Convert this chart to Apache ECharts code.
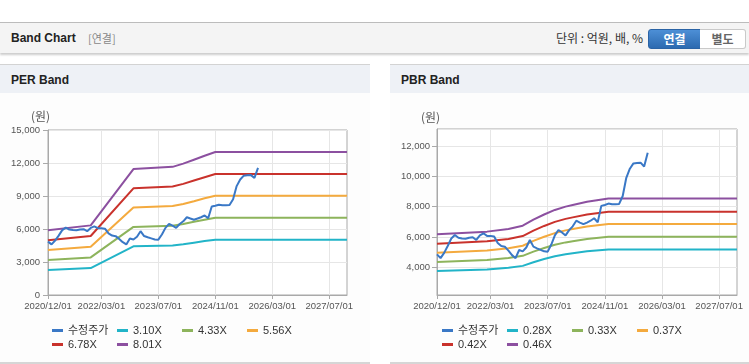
<!DOCTYPE html>
<html><head><meta charset="utf-8">
<script src="https://cdn.jsdelivr.net/npm/echarts@6/dist/echarts.min.js"></script>
<style>
html,body{margin:0;padding:0;width:749px;height:364px;overflow:hidden;background:#fff;font-family:'Liberation Sans','Noto Sans CJK KR',sans-serif;}
#top{position:absolute;left:0;top:22px;width:749px;height:30px;background:#f4f4f4;border-top:1px solid #bcbcbc;box-shadow:0 2px 2px rgba(0,0,0,0.2);}
#top .t{position:absolute;left:11px;top:0;line-height:30px;font-size:12px;font-weight:bold;color:#222;}
#top .s{position:absolute;left:88px;top:0;line-height:30px;font-size:11px;color:#888;font-family:'Noto Sans CJK KR',sans-serif;}
#top .u{position:absolute;right:106px;top:0;line-height:30px;font-size:12px;color:#333;font-family:'Noto Sans CJK KR',sans-serif;}
.btn{position:absolute;top:6px;height:18px;line-height:18px;font-size:12px;font-weight:bold;text-align:center;font-family:'Noto Sans CJK KR',sans-serif;}
#b1{left:648px;width:51px;background:linear-gradient(#4d8fd6,#2c6ab0);border:1px solid #2a63a5;border-radius:3px 0 0 3px;color:#fff;}
#b2{left:700px;width:45px;background:#fff;border:1px solid #c9c9c9;border-left:none;border-radius:0 3px 3px 0;color:#666;}
.panel{position:absolute;top:64px;height:297px;background:#fdfdfd;border-top:1px solid #d3d3d3;border-bottom:2px solid #d6d6d6;}
.panel .h{height:28px;background:#eef1f6;line-height:30px;padding-left:11px;font-size:12px;font-weight:bold;color:#222;}
#chart{position:absolute;left:0;top:0;width:749px;height:364px;}
</style></head>
<body>
<div id="top"><span class="t">Band Chart</span><span class="s">[연결]</span><span class="u">단위 : 억원, 배, %</span>
<div class="btn" id="b1">연결</div><div class="btn" id="b2">별도</div></div>
<div class="panel" style="left:0;width:370px;"><div class="h">PER Band</div></div>
<div class="panel" style="left:390px;width:359px;"><div class="h">PBR Band</div></div>
<div id="chart"></div>
<script>
// monthly categories 2020/12/01 .. 2027/12/01
const categories = [];
for (let y = 2020, m = 12; y < 2028; ) {
  categories.push(y + '/' + String(m).padStart(2, '0') + '/01');
  m++; if (m > 12) { m = 1; y++; }
  if (y === 2028) break;
}
const tickLabels = ['2020/12/01','2022/03/01','2023/07/01','2024/11/01','2026/03/01','2027/07/01'];

// 수정주가 (monthly, 2020/12 .. 2025/11)
const price = [4850,4600,4950,5400,5900,6130,5950,5900,5880,5950,5980,5800,
  6100,6240,6070,6070,6030,5600,5400,5350,5100,4800,4600,5140,
  5050,5300,5800,5360,5250,5150,5050,5030,5500,6100,6460,6300,
  6100,6450,6700,7070,6950,6840,6950,7070,7230,6970,8050,8110,
  8200,8150,8150,8180,8700,9900,10500,10850,10880,10900,10650,11560];

// PER band key points
const perNames = ['3.10X','4.33X','5.56X','6.78X','8.01X'];
const perDates = ['2020/12/01','2021/12/01','2022/12/01','2023/11/01','2024/02/01','2024/05/01','2024/08/01','2024/11/01','2027/12/01'];
const per310 = [2280,2450,4430,4510,4620,4760,4900,5030,5030];
const per433 = [3180,3420,6190,6300,6450,6650,6840,7030,7030];
const per556 = [4090,4390,7950,8090,8280,8530,8790,9020,9020];
const per678 = [4980,5360,9700,9860,10100,10410,10710,11000,11000];
const per801 = [5890,6330,11450,11650,11940,12300,12660,13000,13000];

// PBR band key points
const pbrNames = ['0.28X','0.33X','0.37X','0.42X','0.46X'];
const pbrDates = ['2020/12/01','2022/02/01','2022/08/01','2022/12/01','2023/03/01','2023/06/01','2023/09/01','2023/12/01','2024/02/01','2024/06/01','2024/12/01','2027/12/01'];
const pbr028 = [3745,3854,3964,4091,4334,4540,4722,4856,4923,5050,5178,5178];
const pbr033 = [4350,4477,4604,4752,5034,5273,5485,5640,5718,5866,6014,6014];
const pbr037 = [4961,5105,5250,5419,5741,6014,6255,6432,6520,6689,6858,6858];
const pbr042 = [5547,5709,5870,6059,6419,6725,6994,7192,7291,7480,7668,7668];
const pbr046 = [6170,6350,6530,6740,7140,7480,7780,8000,8110,8320,8530,8530];

const priceColor = '#3a78c6';
const bandColors = ['#22b4c8','#8db45c','#f4aa3e','#c9322c','#8c50a0'];
const FONT = "'Liberation Sans','Noto Sans CJK KR',sans-serif";

const tickSet = new Set(tickLabels);
const showTick = (i, v) => tickSet.has(v);

function xAxis(gi) {
  return {
    type: 'category', gridIndex: gi, data: categories, boundaryGap: false,
    axisLine: { show: true, lineStyle: { color: '#a9a9a9' } },
    axisTick: { show: true, interval: showTick, length: 4, lineStyle: { color: '#a9a9a9' } },
    axisLabel: { interval: showTick, color: '#555', fontSize: 9.5, fontFamily: FONT, margin: 7, hideOverlap: false, showMinLabel: true },
    splitLine: { show: true, interval: showTick, lineStyle: { color: '#e6e6e6' } }
  };
}
function yAxis(gi, extra, labelExtra) {
  return Object.assign({
    type: 'value', gridIndex: gi,
    axisLine: { show: true, lineStyle: { color: '#a9a9a9' } },
    axisTick: { show: true, length: 5, lineStyle: { color: '#a9a9a9' } },
    axisLabel: Object.assign({ color: '#555', fontSize: 9.5, fontFamily: FONT, margin: 8,
      formatter: v => Math.round(v).toLocaleString('en-US') }, labelExtra || {}),
    splitLine: { show: true, lineStyle: { color: '#e6e6e6' } }
  }, extra);
}
function band(name, dates, vals, color, gi) {
  return { name, type: 'line', xAxisIndex: gi, yAxisIndex: gi, showSymbol: false, symbol: 'none',
    lineStyle: { width: 2, color }, itemStyle: { color }, z: 2,
    data: dates.map((d, i) => [d, vals[i]]) };
}
function priceSeries(gi) {
  return { name: '수정주가', type: 'line', xAxisIndex: gi, yAxisIndex: gi, showSymbol: false, symbol: 'none',
    lineStyle: { width: 2, color: priceColor }, itemStyle: { color: priceColor }, z: 3, data: price };
}
function legend(left, names) {
  return { left, top: 324, width: 262, orient: 'horizontal', padding: 0,
    itemWidth: 11, itemHeight: 3, itemGap: 1, icon: 'rect',
    textStyle: { width: 48, fontSize: 11, lineHeight: 13, color: '#333', fontFamily: FONT, overflow: 'none' },
    data: ['수정주가'].concat(names) };
}

const perVals = [per310, per433, per556, per678, per801];
const pbrVals = [pbr028, pbr033, pbr037, pbr042, pbr046];

const option = {
  animation: false,
  grid: [
    { left: 48, top: 130, width: 299, height: 165, show: true, borderColor: '#a9a9a9', borderWidth: 1, backgroundColor: '#fff' },
    { left: 437, top: 129, width: 300, height: 166, show: true, borderColor: '#a9a9a9', borderWidth: 1, backgroundColor: '#fff' }
  ],
  xAxis: [xAxis(0), xAxis(1)],
  yAxis: [
    yAxis(0, { min: 0, max: 15000, interval: 3000 }),
    yAxis(1, { min: 2170, max: 13120 }, { margin: 7, showMinLabel: false, showMaxLabel: false })
  ],
  legend: [legend(52, perNames), legend(442, pbrNames)],
  graphic: [
    { type: 'text', left: 31, top: 110, style: { text: '(원)', fontSize: 12, fill: '#555', fontFamily: "'Noto Sans CJK KR',sans-serif" } },
    { type: 'text', left: 421, top: 111, style: { text: '(원)', fontSize: 12, fill: '#555', fontFamily: "'Noto Sans CJK KR',sans-serif" } }
  ],
  series: [priceSeries(0)]
    .concat(perNames.map((n, i) => band(n, perDates, perVals[i], bandColors[i], 0)))
    .concat([priceSeries(1)])
    .concat(pbrNames.map((n, i) => band(n, pbrDates, pbrVals[i], bandColors[i], 1)))
};
const chart = echarts.init(document.getElementById('chart'), null, { renderer: 'canvas' });
chart.setOption(option);
</script>
</body></html>
